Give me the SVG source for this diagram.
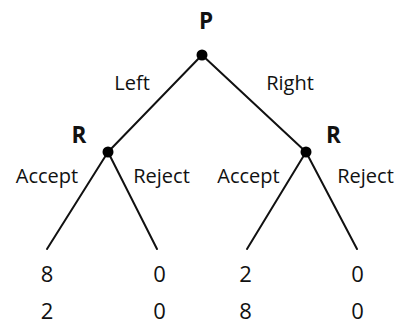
<svg xmlns="http://www.w3.org/2000/svg" width="403" height="329" viewBox="0 0 403 329">
<style>
  text { font-family: "Open Sans", "Liberation Sans", sans-serif; font-size: 20px; fill: #111; text-anchor: middle; }
  .b { font-weight: bold; font-size: 22.5px; }
  .n { font-size: 22px; }
  .edge { stroke: #111; stroke-width: 2; fill: none; stroke-linecap: round; }
  .dot { fill: #000; }
</style>
<rect width="403" height="329" fill="#fff"/>
<g id="connectors">
  <line class="edge" x1="202" y1="55" x2="108" y2="152"/>
  <line class="edge" x1="202" y1="55" x2="306" y2="152"/>
  <line class="edge" x1="108" y1="152" x2="47" y2="249"/>
  <line class="edge" x1="108" y1="152" x2="157" y2="249"/>
  <line class="edge" x1="306" y1="152" x2="247" y2="249"/>
  <line class="edge" x1="306" y1="152" x2="357" y2="249"/>
</g>
<g id="labels">
  <text x="132" y="90">Left</text>
  <text x="290" y="90">Right</text>
  <text x="47" y="183">Accept</text>
  <text x="161.5" y="183">Reject</text>
  <text x="248.5" y="183">Accept</text>
  <text x="365.5" y="183">Reject</text>
</g>
<g id="node-P">
  <circle class="dot" cx="202" cy="55" r="5.5"/>
  <text class="b" x="206" y="28.5">P</text>
</g>
<g id="node-R1">
  <circle class="dot" cx="108" cy="152" r="5.5"/>
  <text class="b" x="79" y="142.5">R</text>
</g>
<g id="node-R2">
  <circle class="dot" cx="306" cy="152" r="5.5"/>
  <text class="b" x="333.5" y="142.5">R</text>
</g>
<g id="leaf-1">
  <text class="n" x="47" y="282">8</text>
  <text class="n" x="47" y="319">2</text>
</g>
<g id="leaf-2">
  <text class="n" x="159.5" y="282">0</text>
  <text class="n" x="159.5" y="319">0</text>
</g>
<g id="leaf-3">
  <text class="n" x="245.5" y="282">2</text>
  <text class="n" x="245.5" y="319">8</text>
</g>
<g id="leaf-4">
  <text class="n" x="357.5" y="282">0</text>
  <text class="n" x="357.5" y="319">0</text>
</g>
</svg>
